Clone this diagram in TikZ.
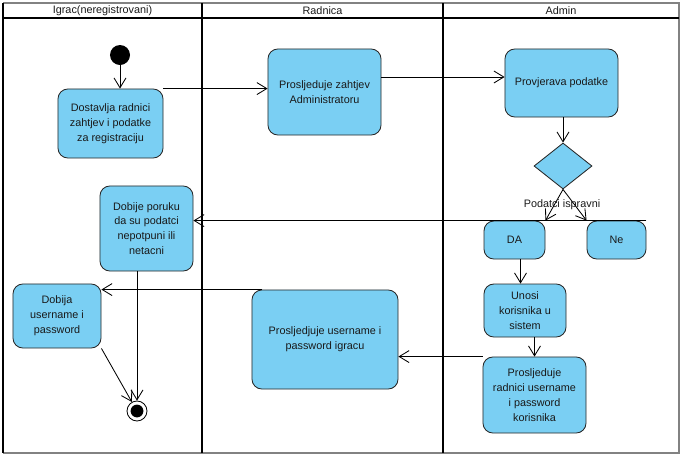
\documentclass[tikz,border=0pt]{standalone}
\usepackage{fontspec}
\setmainfont{Liberation Sans}
\usepackage{tikz}
\usetikzlibrary{arrows.meta, shapes.geometric}

\definecolor{akcija}{RGB}{122,207,243}
\definecolor{okvir}{RGB}{130,130,130}

\tikzset{
    akt/.style={draw=black!85, fill=akcija, rounded corners=7pt, line width=0.6pt, align=center, text=black!90, inner sep=2pt},
    odluka/.style={diamond, draw=black!85, fill=akcija, line width=0.6pt, inner sep=0pt, minimum width=1.45cm, minimum height=1.15cm},
    arr/.style={-{Straight Barb[length=7pt,width=8.5pt]}, line width=0.6pt},
    traka/.style={line width=1.4pt, black},
    naslov/.style={text=black!90}
}

\begin{document}
\begin{tikzpicture}[x=0.025cm, y=-0.025cm, font=\fontsize{7.7}{10.6}\selectfont]
        \useasboundingbox (0,0) rectangle (682,455);

        \coordinate (T1) at (3,3);
        \coordinate (T2) at (679,3);
        \coordinate (T3) at (679,453);
        \coordinate (T4) at (3,453);
        \coordinate (H1) at (3,18);
        \coordinate (H2) at (679,18);
        \coordinate (D1) at (202,3);
        \coordinate (D2) at (202,453);
        \coordinate (D3) at (443,3);
        \coordinate (D4) at (443,453);

        \draw[okvir, line width=1.2pt] (T4) -- (T3) -- (T2) -- (T1);
        \draw[traka] (T1) -- (T4);
        \draw[traka] (H1) -- (H2);
        \draw[traka] (D1) -- (D2);
        \draw[traka] (D3) -- (D4);

        \node[naslov] (L1) at (102.5,11) {Igrac(neregistrovani)};
        \node[naslov] (L2) at (322.5,11) {Radnica};
        \node[naslov] (L3) at (561,11) {Admin};

        \node[circle, fill=black, minimum size=0.5cm, inner sep=0pt] (pocetak) at (120,55) {};
        \node[circle, draw=black, fill=white, line width=0.6pt, minimum size=0.5cm, inner sep=0pt,
              path picture={\fill[black] (path picture bounding box.center) circle (0.16cm);}] (kraj) at (137,411) {};

        \node[akt, minimum width=2.625cm, minimum height=1.725cm] (dostavlja) at (110.5,123.5) {Dostavlja radnici\\zahtjev i podatke\\za registraciju};
        \node[akt, minimum width=2.825cm, minimum height=2.15cm] (zahtjev) at (324.5,92) {Prosljeduje zahtjev\\Administratoru};
        \node[akt, minimum width=2.825cm, minimum height=1.7cm] (provjerava) at (561.5,83) {Provjerava podatke};
        \node[odluka] (odluka) at (563,166) {};
        \node[akt, minimum width=1.525cm, minimum height=0.95cm] (da) at (514.5,240) {DA};
        \node[akt, minimum width=1.475cm, minimum height=0.95cm] (ne) at (616.5,240) {Ne};
        \node[akt, minimum width=2.325cm, minimum height=2.125cm] (poruka) at (146.5,228.5) {Dobije poruku\\da su podatci\\nepotpuni ili\\netacni};
        \node[akt, minimum width=2.2cm, minimum height=1.6cm] (dobija) at (57,316) {Dobija\\username i\\password};
        \node[akt, minimum width=3.65cm, minimum height=2.475cm] (igracu) at (325,339.5) {Prosljedjuje username i\\password igracu};
        \node[akt, minimum width=2.05cm, minimum height=1.325cm] (unosi) at (525,310.5) {Unosi\\korisnika u\\sistem};
        \node[akt, minimum width=2.575cm, minimum height=1.9cm] (radnici) at (534.5,395) {Prosljeduje\\radnici username\\i password\\korisnika};

        \node[naslov, inner sep=1pt] (uslov) at (562,205) {Podatci ispravni};

        \draw[arr] (pocetak) -- (pocetak |- dostavlja.north);
        \draw[arr] (dostavlja.north east) -- (zahtjev.west |- dostavlja.north east);
        \draw[arr] ([yshift=0.15cm]provjerava.west -| zahtjev.east) -- ([yshift=0.15cm]provjerava.west);
        \draw[arr] (provjerava.south -| odluka.north) -- (odluka.north);
        \draw[arr] (odluka.south) -- (da.north east);
        \draw[arr] (odluka.south) -- (ne.north west);
        \draw[arr] (ne.north east) -- (poruka.east |- ne.north east);
        \draw[arr] ([xshift=0.15cm]da.south) -- ([xshift=0.15cm]da.south |- unosi.north);
        \draw[arr] (radnici.north |- unosi.south) -- (radnici.north);
        \draw[arr] (radnici.north west) -- (igracu.east |- radnici.north west);
        \draw[arr, shorten <=-0.27cm] (igracu.north west) -- (dobija.east |- igracu.north west);
        \draw[arr] (kraj.north |- poruka.south) -- (kraj.north);
        \draw[arr] (dobija.south east) -- (kraj);
    \end{tikzpicture}
\end{document}
